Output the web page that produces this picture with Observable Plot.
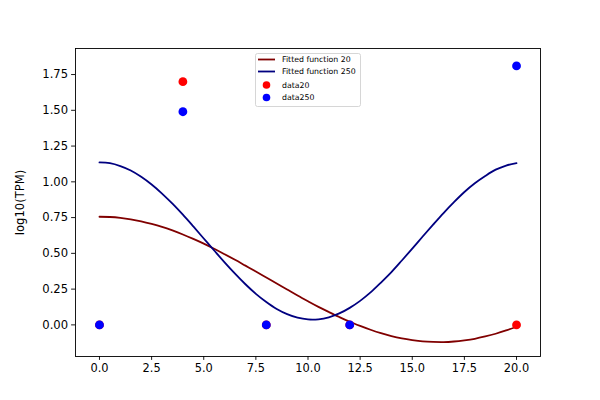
<!DOCTYPE html>
<html>
<head>
<meta charset="utf-8">
<script src="https://cdn.jsdelivr.net/npm/d3@7"></script>
<script src="https://cdn.jsdelivr.net/npm/@observablehq/plot@0.6"></script>
<style>
  html, body { margin: 0; padding: 0; background: #fff; }
  #chart { width: 600px; height: 400px; position: relative; }
</style>
</head>
<body>
<div id="chart"></div>
<script>
// Time points of the measured data
const times = [0, 4, 8, 12, 20];
const data20 = [0, 1.70, 0, 0, 0];
const data250 = [0, 1.49, 0, 0, 1.81];

// Fitted curves, every 0.5
const fitX = [0,0.5,1,1.5,2,2.5,3,3.5,4,4.5,5,5.5,6,6.5,7,7.5,8,8.5,9,9.5,10,10.5,11,11.5,12,12.5,13,13.5,14,14.5,15,15.5,16,16.5,17,17.5,18,18.5,19,19.5,20];
const fit20 = [0.756,0.754,0.748,0.738,0.724,0.706,0.685,0.660,0.632,0.601,0.568,0.532,0.494,0.455,0.414,0.373,0.331,0.289,0.247,0.205,0.165,0.126,0.090,0.055,0.022,-0.007,-0.034,-0.058,-0.078,-0.094,-0.106,-0.115,-0.119,-0.120,-0.116,-0.108,-0.097,-0.081,-0.062,-0.039,-0.013];
const fit250 = [1.136,1.130,1.110,1.079,1.035,0.981,0.918,0.847,0.770,0.688,0.604,0.520,0.437,0.358,0.284,0.217,0.160,0.111,0.075,0.050,0.038,0.039,0.053,0.080,0.119,0.168,0.227,0.296,0.369,0.450,0.533,0.618,0.701,0.782,0.858,0.929,0.990,1.041,1.085,1.114,1.131];

const xTicks = [0, 2.5, 5, 7.5, 10, 12.5, 15, 17.5, 20];
const yTicks = [0, 0.25, 0.5, 0.75, 1.0, 1.25, 1.5, 1.75];

const legendLabels = ["Fitted function 20", "Fitted function 250", "data20", "data250"];
const legendColors = ["#800000", "#000080", "#ff0000", "#0000ff"];
const legendKinds = ["line", "line", "dot", "dot"];

const pts20 = times.map((t, i) => ({x: t, y: data20[i]}));
const pts250 = times.map((t, i) => ({x: t, y: data250[i]}));
const line20 = fitX.map((t, i) => ({x: t, y: fit20[i]}));
const line250 = fitX.map((t, i) => ({x: t, y: fit250[i]}));

const font = "'DejaVu Sans', sans-serif";

const chart = Plot.plot({
  width: 600,
  height: 400,
  marginLeft: 75,
  marginRight: 60,
  marginTop: 48,
  marginBottom: 44,
  style: {fontFamily: font, fontSize: "11.4px", color: "#000", background: "#fff"},
  x: {domain: [-1.15, 21.15]},
  y: {domain: [-0.221, 1.932]},
  marks: [
    Plot.line(line20, {x: "x", y: "y", stroke: "#800000", strokeWidth: 1.8, curve: "catmull-rom"}),
    Plot.line(line250, {x: "x", y: "y", stroke: "#000080", strokeWidth: 1.8, curve: "catmull-rom"}),
    Plot.dot(pts20, {x: "x", y: "y", r: 4.4, fill: "#ff0000", stroke: "none"}),
    Plot.dot(pts250, {x: "x", y: "y", r: 4.4, fill: "#0000ff", stroke: "none"}),
    Plot.frame({stroke: "#000", strokeWidth: 0.9}),
    Plot.axisX({ticks: xTicks, tickFormat: d3.format(".1f"), tickSize: 3.9, tickPadding: 3.5, label: null, fontSize: "11.4px", stroke: "#000", strokeWidth: 0.9}),
    Plot.axisY({ticks: yTicks, tickFormat: d3.format(".2f"), tickSize: 3.9, tickPadding: 3.5, label: "log10(TPM)", labelAnchor: "center", labelArrow: "none", labelOffset: 60, fontSize: "11.6px", stroke: "#000", strokeWidth: 0.9})
  ]
});

document.getElementById("chart").appendChild(chart);

// Legend inside the axes, top centre
const svg = d3.select(chart);
const lg = svg.append("g").attr("font-family", font).attr("font-size", "7.8px").attr("text-anchor", "start");
lg.append("rect")
  .attr("x", 255.5).attr("y", 53.5).attr("width", 105).attr("height", 53)
  .attr("rx", 2).attr("fill", "#fff").attr("fill-opacity", 0.8)
  .attr("stroke", "#cccccc").attr("stroke-width", 0.8);
const rowY = [59.5, 71.5, 85, 97.5];
legendLabels.forEach((lab, i) => {
  if (legendKinds[i] === "line") {
    lg.append("line").attr("x1", 258).attr("x2", 275).attr("y1", rowY[i]).attr("y2", rowY[i])
      .attr("stroke", legendColors[i]).attr("stroke-width", 1.8);
  } else {
    lg.append("circle").attr("cx", 266.5).attr("cy", rowY[i]).attr("r", 3.8).attr("fill", legendColors[i]);
  }
  lg.append("text").attr("x", 282).attr("y", rowY[i]).attr("dy", "0.35em").attr("text-anchor", "start").attr("fill", "#000").text(lab);
});
</script>
</body>
</html>
